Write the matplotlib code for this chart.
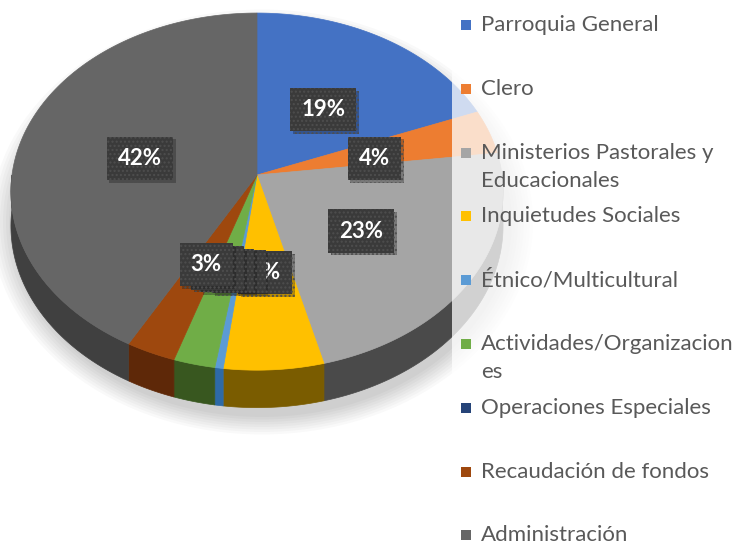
import numpy as np
import matplotlib
matplotlib.use("Agg")
import matplotlib.pyplot as plt
from matplotlib.patches import Polygon, Rectangle, Ellipse
import matplotlib.patheffects as pe

plt.rcParams['font.family'] = ['Lato', 'DejaVu Sans']

categories = ["Parroquia General", "Clero", "Ministerios Pastorales y\nEducacionales",
              "Inquietudes Sociales", "Étnico/Multicultural", "Actividades/Organizacion\nes",
              "Operaciones Especiales", "Recaudación de fondos", "Administración"]
values = [19, 4, 23, 6, 0.5, 2.5, 0.0, 3, 42]
top_colors = ["#4472c4", "#ed7d31", "#a5a5a5", "#ffc000", "#5b9bd5",
              "#70ad47", "#264478", "#9e480e", "#666666"]
side_colors = ["#2a4a86", "#9a4d18", "#4a4a4a", "#7a5c00", "#2e6aa6",
               "#38571f", "#14254a", "#5e2808", "#404040"]

# projection of the disc (pixel coords)
cx, cy = 257, 175
A, B, k, H = 245, 177, 0.093, 34


def proj(theta, r=1.0, h=0.0):
    t = np.radians(theta)
    X = r * np.sin(t)
    D = r * np.cos(t)
    w = 1 + k * D
    return cx + A * X / w, cy - B * D / w + H * h / w


fig = plt.figure(figsize=(7.33, 5.44), dpi=100)
ax = fig.add_axes([0, 0, 1, 1])
ax.set_xlim(0, 733)
ax.set_ylim(544, 0)
ax.axis('off')

# soft shadow under the pie
for i in range(8):
    ax.add_patch(Ellipse((262, 222), 500 + i * 6, 390 + i * 5, color='#000000',
                         alpha=0.025, lw=0, zorder=0))

total = sum(values)
angles = np.cumsum([0] + [v / total * 360 for v in values])

# sides (front half)
for i in range(len(values)):
    t0, t1 = max(angles[i], 90), min(angles[i + 1], 270)
    if t1 <= t0:
        continue
    ts = np.linspace(t0, t1, 60)
    top = [proj(t) for t in ts]
    bot = [proj(t, h=1) for t in ts[::-1]]
    ax.add_patch(Polygon(top + bot, closed=True, fc=side_colors[i], ec=side_colors[i],
                         lw=0.5, zorder=1))

# top faces
for i in range(len(values)):
    if values[i] == 0:
        continue
    ts = np.linspace(angles[i], angles[i + 1], 120)
    pts = [(cx, cy)] + [proj(t) for t in ts]
    ax.add_patch(Polygon(pts, closed=True, fc=top_colors[i], ec=top_colors[i],
                         lw=0.5, zorder=2))

# data labels
for i in range(len(values)):
    mid = (angles[i] + angles[i + 1]) / 2
    x, y = proj(mid, r=0.5)
    t = ax.text(x, y + 5, f"{values[i]:.0f}%", fontsize=16, fontweight='bold', color='white',
                ha='center', va='center', zorder=3 + i,
                bbox=dict(boxstyle='square,pad=0.5', fc='#3a3a3a', ec='#4e4e4e',
                          lw=0, hatch='....'))
    t.get_bbox_patch().set_path_effects([pe.SimplePatchShadow(offset=(2, -2), alpha=0.3),
                                         pe.Normal()])

# legend panel
ax.add_patch(Rectangle((452, 0), 281, 544, fc='white', ec='none', alpha=0.75, zorder=20))
for i, lab in enumerate(categories):
    y0 = 25 + i * 63.8
    ax.add_patch(Rectangle((461, y0 - 5), 10, 10, fc=top_colors[i], ec='none', zorder=21))
    for j, line in enumerate(lab.split("\n")):
        ax.text(481, y0 + j * 28, line, fontsize=16, color='#595959',
                ha='left', va='center', zorder=21)

fig.savefig("out.png", dpi=100)
